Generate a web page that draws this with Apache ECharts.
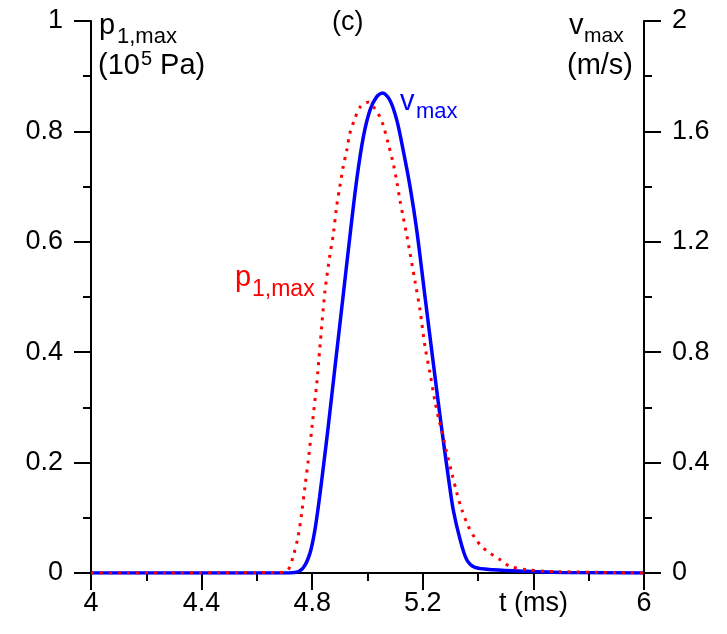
<!DOCTYPE html>
<html>
<head>
<meta charset="utf-8">
<script src="https://cdn.jsdelivr.net/npm/echarts@6/dist/echarts.min.js"></script>
<style>
html,body{margin:0;padding:0;background:#fff;}
#chart{width:727px;height:634px;}
</style>
</head>
<body>
<div id="chart"></div>
<script>
// time (ms) and v_max (m/s), right axis
var tV = [4.0, 4.683, 4.737, 4.767, 4.792, 4.810, 4.827, 4.845, 4.858, 4.884, 4.9115, 4.939, 4.961, 4.985, 5.009, 5.033, 5.055, 5.081, 5.106, 5.129, 5.154, 5.178, 5.208, 5.238, 5.268, 5.292, 5.310, 5.335, 5.359, 5.389, 5.455, 5.576, 5.697, 6.0];
var vMax = [0, 0, 0.002, 0.018, 0.072, 0.157, 0.277, 0.422, 0.531, 0.760, 1.001, 1.243, 1.425, 1.580, 1.677, 1.725, 1.739, 1.713, 1.641, 1.532, 1.399, 1.243, 1.001, 0.760, 0.525, 0.350, 0.229, 0.121, 0.048, 0.020, 0.012, 0.006, 0.002, 0];
// time (ms) and p_1,max (10^5 Pa), left axis
var tP = [4.0, 4.683, 4.713, 4.731, 4.749, 4.762, 4.774, 4.786, 4.801, 4.816, 4.828, 4.846, 4.864, 4.876, 4.888, 4.900, 4.912, 4.925, 4.936, 4.952, 4.973, 5.003, 5.027, 5.045, 5.057, 5.075, 5.093, 5.106, 5.117, 5.129, 5.142, 5.172, 5.190, 5.208, 5.226, 5.244, 5.259, 5.268, 5.287, 5.305, 5.323, 5.341, 5.365, 5.389, 5.413, 5.443, 5.480, 5.515, 5.576, 5.649, 6.0];
var pMax = [0, 0.001, 0.006, 0.030, 0.066, 0.109, 0.157, 0.205, 0.273, 0.341, 0.410, 0.510, 0.576, 0.612, 0.663, 0.700, 0.736, 0.766, 0.796, 0.820, 0.844, 0.853, 0.841, 0.826, 0.811, 0.778, 0.742, 0.709, 0.676, 0.645, 0.612, 0.528, 0.476, 0.410, 0.362, 0.311, 0.276, 0.259, 0.217, 0.181, 0.145, 0.115, 0.084, 0.063, 0.048, 0.036, 0.024, 0.012, 0.006, 0.003, 0];

var xTickLabels = ['4', '4.4', '4.8', '5.2', 't (ms)', '6'];
var leftTickLabels = ['0', '0.2', '0.4', '0.6', '0.8', '1'];
var rightTickLabels = ['0', '0.4', '0.8', '1.2', '1.6', '2'];

function zip(a, b) { return a.map(function (v, i) { return [v, b[i]]; }); }

var FONT = 'Liberation Sans, Arial, sans-serif';
var FS = 27;
var axisLine = { show: true, onZero: false, lineStyle: { color: '#000', width: 2 } };
var tick = { show: true, length: 17, lineStyle: { color: '#000', width: 2 } };
var minor = { show: true, splitNumber: 2, length: 8, lineStyle: { color: '#000', width: 2 } };

function txt(s, left, top, size, color) {
  return { type: 'text', left: left, top: top, z: 10, style: { text: s, font: size + 'px ' + FONT, fill: color || '#000' } };
}

var chart = echarts.init(document.getElementById('chart'), null, { renderer: 'canvas' });
chart.setOption({
  animation: false,
  backgroundColor: '#fff',
  grid: { left: 91, right: 83, top: 21, bottom: 61, containLabel: false },
  xAxis: {
    type: 'value', min: 4, max: 6, interval: 0.4,
    axisLine: axisLine, axisTick: tick, minorTick: minor,
    splitLine: { show: false }, minorSplitLine: { show: false },
    axisLabel: { margin: 17, fontSize: FS, fontFamily: FONT, color: '#000',
      formatter: function (v) { return xTickLabels[Math.round((v - 4) / 0.4)]; } }
  },
  yAxis: [{
    type: 'value', position: 'left', min: 0, max: 1, interval: 0.2,
    axisLine: axisLine, axisTick: tick, minorTick: minor,
    splitLine: { show: false }, minorSplitLine: { show: false },
    axisLabel: { margin: 28, fontSize: FS, fontFamily: FONT, color: '#000',
      formatter: function (v) { return leftTickLabels[Math.round(v / 0.2)]; } }
  }, {
    type: 'value', position: 'right', min: 0, max: 2, interval: 0.4,
    axisLine: axisLine, axisTick: tick, minorTick: minor,
    splitLine: { show: false }, minorSplitLine: { show: false },
    axisLabel: { margin: 28, fontSize: FS, fontFamily: FONT, color: '#000',
      formatter: function (v) { return rightTickLabels[Math.round(v / 0.4)]; } }
  }],
  series: [{
    name: 'vmax', type: 'line', yAxisIndex: 1, data: zip(tV, vMax), smooth: 0.3,
    showSymbol: false, lineStyle: { color: '#0000ff', width: 3.5 }, z: 3
  }, {
    name: 'p1max', type: 'line', yAxisIndex: 0, data: zip(tP, pMax), smooth: 0.3,
    showSymbol: false, lineStyle: { color: '#ff0000', width: 3, type: [3, 6] }, z: 4
  }],
  graphic: [
    txt('(c)', 332, 9, 27),
    txt('p', 99, 11, 29),
    txt('1,max', 117, 26, 22),
    txt('(10', 98, 51, 29),
    txt('5', 141, 49, 20),
    txt(' Pa)', 152, 51, 29),
    txt('v', 569, 11, 29),
    txt('max', 584, 26, 21),
    txt('(m/s)', 567, 51, 29),
    txt('v', 400, 87, 29, '#0000ff'),
    txt('max', 416, 101, 22, '#0000ff'),
    txt('p', 235, 263, 29, '#ff0000'),
    txt('1,max', 252, 278, 23, '#ff0000')
  ]
});
</script>
</body>
</html>
